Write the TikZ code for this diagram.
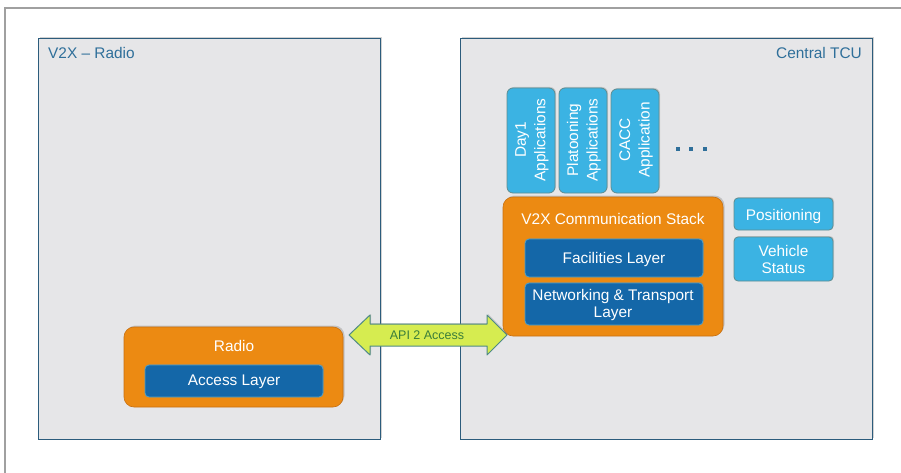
\documentclass[tikz,border=0pt]{standalone}
\usepackage{fontspec}
\setmainfont{Liberation Sans}
\usetikzlibrary{shadows,shapes.arrows}
\definecolor{panelbg}{HTML}{E6E6E8}
\definecolor{panelbd}{HTML}{2C5C7C}
\definecolor{titleblue}{HTML}{2F6F9A}
\definecolor{orangebox}{HTML}{EC8A12}
\definecolor{orangebd}{HTML}{C87010}
\definecolor{appblue}{HTML}{3BB3E3}
\definecolor{appbd}{HTML}{5E8C90}
\definecolor{layerblue}{HTML}{1467A8}
\definecolor{layerbd}{HTML}{4FA0C8}
\definecolor{arrowfill}{HTML}{D6EC50}
\definecolor{arrowbd}{HTML}{4F8A86}
\definecolor{arrowtxt}{HTML}{3A7E3A}
\definecolor{framegray}{HTML}{A0A0A0}
\tikzset{
  panel/.style={draw=panelbd, line width=1pt, fill=panelbg, drop shadow={shadow xshift=1.5pt, shadow yshift=1.5pt, opacity=0.35}},
  orangebox/.style={draw=orangebd, line width=0.6pt, fill=orangebox, rounded corners=10pt, drop shadow={shadow xshift=1.5pt, shadow yshift=1.5pt, opacity=0.35}},
  appbox/.style={draw=appbd, line width=0.8pt, fill=appblue, rounded corners=6pt, text=white, drop shadow={shadow xshift=1pt, shadow yshift=1pt, opacity=0.3}},
  layerbox/.style={draw=layerbd, line width=0.8pt, fill=layerblue, rounded corners=4pt, text=white, drop shadow={shadow xshift=1pt, shadow yshift=1pt, opacity=0.3}},
  paneltitle/.style={text=titleblue, font=\fontsize{15.4}{18}\selectfont, inner sep=0pt},
  whitetitle/.style={text=white, font=\fontsize{15.4}{18}\selectfont, inner sep=0pt},
  boxtext/.style={text=white, font=\fontsize{15.4}{17.5}\selectfont, align=center, inner sep=0pt},
  apptext/.style={rotate=90, text=white, font=\fontsize{15.4}{19.5}\selectfont, align=center, inner sep=0pt},
}
\begin{document}
\begin{tikzpicture}[x=1pt,y=-1pt]
\useasboundingbox (0,0) rectangle (901,473);
\fill[white] (0,0) rectangle (901,473);
% outer frame
\draw[framegray, line width=1.2pt] (5,473) -- (5,8) -- (901,8);

% panels
\path[panel] (38,39) rectangle (380,439);
\path[panel] (460,39) rectangle (872,439);
\node[paneltitle, anchor=west] (t1) at (48,53) {V2X -- Radio};
\node[paneltitle, anchor=east] (t2) at (862,53) {Central TCU};

% radio
\path[orangebox] (124,327) rectangle (343,407);
\node[whitetitle] (radio) at (234,346) {Radio};
\path[layerbox] (145,365) rectangle (323,397);
\node[boxtext] (acc) at (234,381.5) {Access Layer};

% applications
\path[appbox] (507,88) rectangle (555,193);
\node[apptext] (day1) at (532,140) {Day1\\Applications};
\path[appbox] (559,88) rectangle (607,193);
\node[apptext] (plat) at (584,140) {Platooning\\Applications};
\path[appbox] (611,89) rectangle (659,193);
\node[apptext] (cacc) at (636,140) {CACC\\Application};
\foreach \i/\xx in {1/678,2/691,3/705}{
  \fill[titleblue] (\xx-1.9,149-1.9) rectangle (\xx+1.9,149+1.9);
}

% stack
\path[orangebox] (503,197) rectangle (723,336);
\node[whitetitle] (stack) at (613,219) {V2X Communication Stack};
\path[layerbox] (525,239) rectangle (703,277);
\node[boxtext] (fac) at (614,260) {Facilities Layer};
\path[layerbox] (525,283) rectangle (703,325);
\node[boxtext] (net) at (613,305) {Networking \& Transport\\Layer};

% positioning / vehicle status
\path[appbox, rounded corners=4pt] (734,198) rectangle (833,230);
\node[boxtext] (pos) at (783.5,216.5) {Positioning};
\path[appbox, rounded corners=4pt] (734,237) rectangle (833,281);
\node[boxtext] (veh) at (783.5,259.5) {Vehicle\\Status};

% API arrow
\path[draw=arrowbd, line width=1pt, fill=arrowfill, line join=round, drop shadow={shadow xshift=1pt, shadow yshift=1pt, opacity=0.3}]
  (349,335) -- (370,315) -- (370,324) -- (487,324) -- (487,315) -- (507,335)
  -- (487,355) -- (487,346) -- (370,346) -- (370,355) -- cycle;
\node[text=arrowtxt, font=\fontsize{12.5}{14}\selectfont, inner sep=0pt] (api) at (427,335.5) {API 2 Access};
\end{tikzpicture}
\end{document}
